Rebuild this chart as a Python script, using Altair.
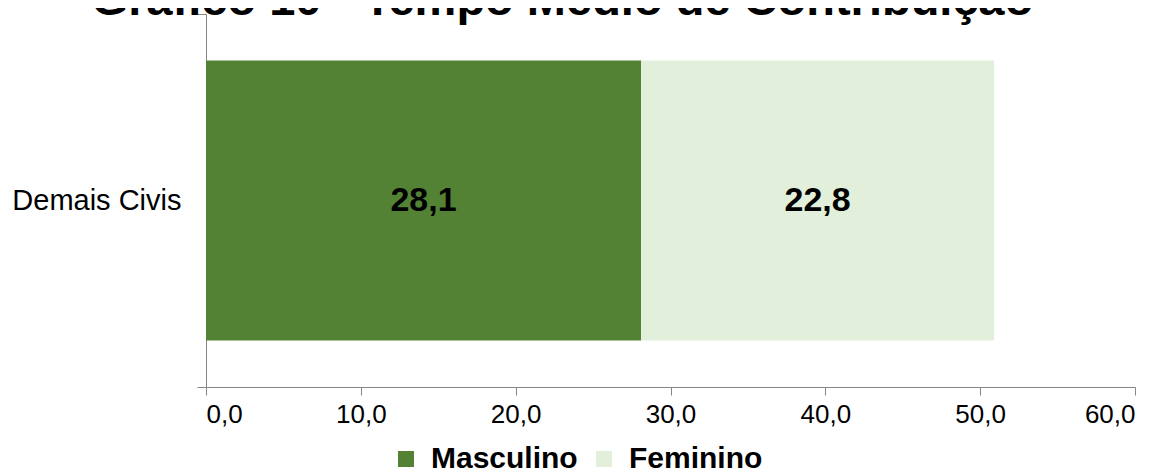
import altair as alt
import pandas as pd

categorias = ["Demais Civis", "Demais Civis"]
sexos = ["Masculino", "Feminino"]
valores = [28.1, 22.8]
ordem = [0, 1]
cores_barras = ["#548235", "#E2EFDA"]
x_ticks = [0, 10, 20, 30, 40, 50, 60]
titulo = "Gráfico 10 - Tempo Médio de Contribuição"

df = pd.DataFrame({"cat": categorias, "sexo": sexos, "valor": valores, "ordem": ordem})

FONT = "Liberation Sans"

base = alt.Chart(df).transform_stack(
    stack="valor", groupby=["cat"], as_=["x0", "x1"], sort=[alt.SortField("ordem")]
).transform_calculate(
    xm="(datum.x0 + datum.x1) / 2",
    rotulo="replace(format(datum.valor, '.1f'), '.', ',')",
)

y_enc = alt.Y(
    "cat:N",
    title=None,
    scale=alt.Scale(paddingInner=0, paddingOuter=0),
    axis=alt.Axis(
        domainColor="#868686",
        tickColor="#868686",
        tickBand="extent",
        tickSize=9,
        labelFontSize=29,
        labelFont=FONT,
        labelColor="#000000",
        labelPadding=16,
    ),
)

bars = base.mark_bar(height={"band": 0.7507}).encode(
    x=alt.X(
        "x0:Q",
        title=None,
        scale=alt.Scale(domain=[0, 60], nice=False),
        axis=alt.Axis(
            values=x_ticks,
            labelExpr="replace(format(datum.value, '.1f'), '.', ',')",
            domainColor="#868686",
            tickColor="#868686",
            tickSize=8,
            grid=False,
            labelFontSize=26,
            labelFont=FONT,
            labelColor="#000000",
            labelPadding=6,
        ),
    ),
    x2="x1:Q",
    y=y_enc,
    color=alt.Color(
        "sexo:N",
        scale=alt.Scale(domain=sexos, range=cores_barras),
        legend=alt.Legend(
            title=None,
            orient="none",
            direction="horizontal",
            legendX=185,
            legendY=430,
            symbolType="square",
            symbolSize=256,
            symbolStrokeWidth=0,
            labelFontSize=30,
            labelFont=FONT,
            labelFontWeight="bold",
            labelColor="#000000",
            labelOffset=10,
            columnPadding=11,
        ),
    ),
)

texts = base.mark_text(
    font=FONT, fontSize=34, fontWeight="bold", color="#000000", baseline="middle", align="center"
).encode(
    x=alt.X("xm:Q"),
    y=alt.Y("cat:N"),
    text="rotulo:N",
)

chart = (
    alt.layer(bars, texts)
    .properties(
        width=929,
        height=373,
        background="white",
        autosize=alt.AutoSizeParams(type="none"),
        padding={"left": 198, "top": 6, "right": 22, "bottom": 86},
        title=alt.TitleParams(
            text=titulo,
            fontSize=47,
            font=FONT,
            fontWeight="bold",
            color="#000000",
            anchor="middle",
            baseline="alphabetic",
            offset=1,
            dx=-108,
            dy=63,
        ),
    )
    .configure_view(strokeWidth=0)
)

chart.save("out.html", embed_options={"renderer": "svg", "actions": False})
